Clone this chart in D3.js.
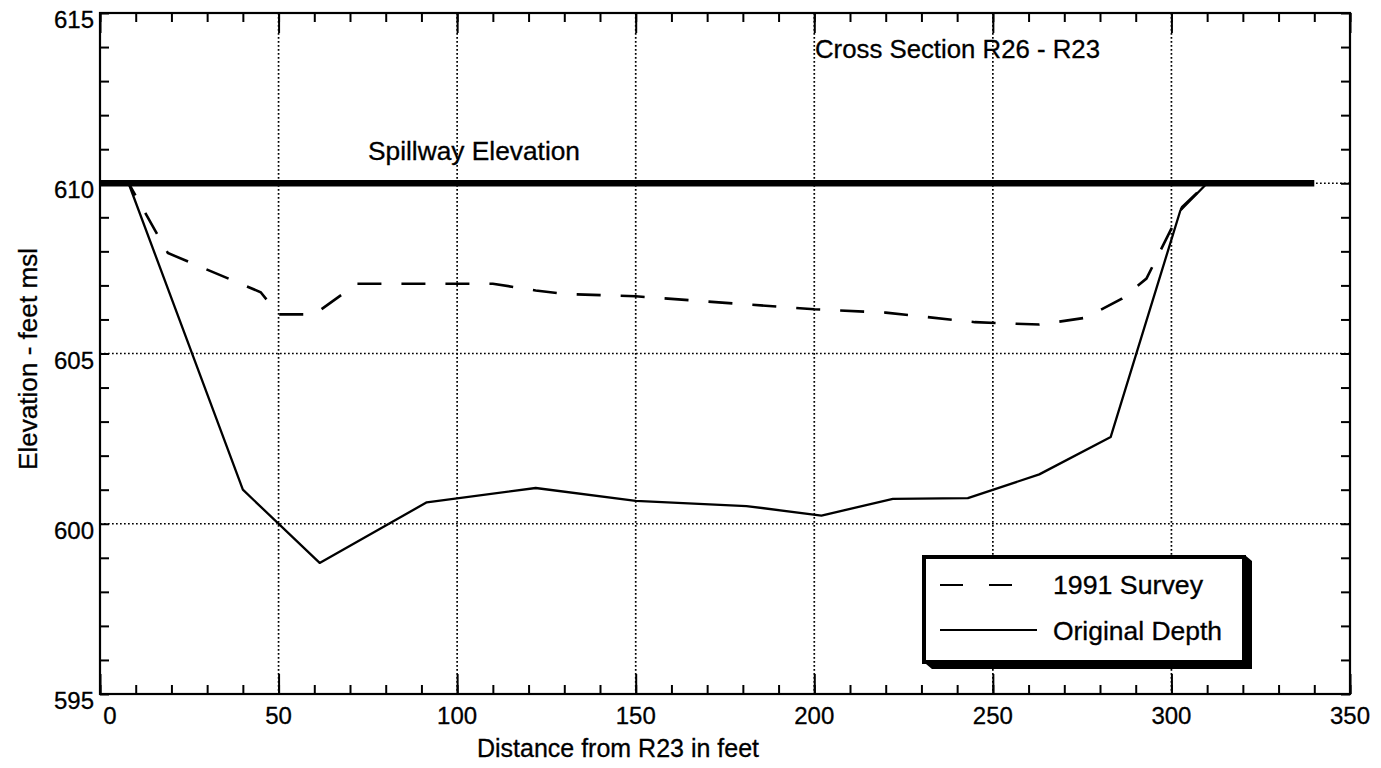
<!DOCTYPE html>
<html>
<head>
<meta charset="utf-8">
<script src="https://cdn.jsdelivr.net/npm/d3@7"></script>
<style>
  html, body { margin: 0; padding: 0; background: #fff; }
  svg { display: block; }
  text { font-family: "Liberation Sans", Arial, Helvetica, sans-serif; fill: #000; stroke: #000; stroke-width: 0.3px; }
</style>
</head>
<body>
<svg id="chart" width="1381" height="768"></svg>
<script>
// ---- Data ----
const survey1991X = [8, 19, 45, 50, 60, 72, 110, 122, 130, 150, 180, 200, 220, 245, 263, 276, 286, 293, 303, 310];
const survey1991Y = [610, 607.95, 606.8, 606.15, 606.15, 607.05, 607.05, 606.85, 606.75, 606.68, 606.45, 606.3, 606.2, 605.92, 605.85, 606.05, 606.6, 607.2, 609.3, 610];
const originalX = [8, 40, 61.5, 91.5, 122, 150, 181, 202, 222, 243, 263, 283, 302.5, 310];
const originalY = [610, 601, 598.85, 600.63, 601.05, 600.67, 600.52, 600.24, 600.73, 600.75, 601.45, 602.55, 609.2, 610];
const spillwayX = [0, 340];
const spillwayY = [610, 610];
const xTickValues = [0, 50, 100, 150, 200, 250, 300, 350];
const yTickValues = [595, 600, 605, 610, 615];
const xGridValues = [50, 100, 150, 200, 250, 300];
const yGridValues = [600, 605, 610];
const seriesNames = ["1991 Survey", "Original Depth"];

// ---- Layout ----
const svg = d3.select("#chart");
const pLeft = 100, pRight = 1350, pTop = 13, pBottom = 694;
const x = d3.scaleLinear().domain([0, 350]).range([pLeft, pRight]);
const y = d3.scaleLinear().domain([595, 615]).range([pBottom, pTop]);

// gridlines
const grid = svg.append("g").attr("stroke", "#000").attr("stroke-width", 1.7).attr("stroke-dasharray", "1.7,2.3");
grid.selectAll("line.vx").data(xGridValues).join("line")
  .attr("x1", d => x(d)).attr("x2", d => x(d)).attr("y1", pTop).attr("y2", pBottom);
grid.selectAll("line.hy").data(yGridValues).join("line")
  .attr("x1", pLeft).attr("x2", pRight).attr("y1", d => y(d)).attr("y2", d => y(d));

// axes with inward ticks
function styleAxis(g) {
  g.select(".domain").remove();
  g.selectAll(".tick line").attr("stroke", "#000").attr("stroke-width", 2);
}
const minorX = d3.range(0, 351, 10);
const minorY = d3.range(595, 615.01, 1);
svg.append("g").attr("transform", `translate(0,${pBottom})`)
  .call(d3.axisBottom(x).tickValues(minorX).tickSize(-9).tickFormat(""))
  .call(styleAxis);
svg.append("g").attr("transform", `translate(0,${pBottom})`)
  .call(d3.axisBottom(x).tickValues(xTickValues).tickSize(-20).tickFormat(""))
  .call(styleAxis);
svg.append("g").attr("transform", `translate(0,${pTop})`)
  .call(d3.axisTop(x).tickValues(minorX).tickSize(-9).tickFormat(""))
  .call(styleAxis);
svg.append("g").attr("transform", `translate(0,${pTop})`)
  .call(d3.axisTop(x).tickValues(xTickValues).tickSize(-20).tickFormat(""))
  .call(styleAxis);
svg.append("g").attr("transform", `translate(${pLeft},0)`)
  .call(d3.axisLeft(y).tickValues(minorY).tickSize(-9).tickFormat(""))
  .call(styleAxis);
svg.append("g").attr("transform", `translate(${pRight},0)`)
  .call(d3.axisRight(y).tickValues(minorY).tickSize(-9).tickFormat(""))
  .call(styleAxis);

// tick labels
svg.append("g").selectAll("text").data(xTickValues).join("text")
  .attr("x", d => x(d) + (d === 0 ? 10 : 0))
  .attr("y", pBottom + 30)
  .attr("text-anchor", "middle")
  .attr("font-size", 24)
  .text(d => d);
svg.append("g").selectAll("text").data(yTickValues).join("text")
  .attr("x", pLeft - 6)
  .attr("y", d => y(d) + 15)
  .attr("text-anchor", "end")
  .attr("font-size", 24)
  .text(d => d);

// frame
svg.append("rect").attr("x", pLeft).attr("y", pTop).attr("width", pRight - pLeft).attr("height", pBottom - pTop)
  .attr("fill", "none").attr("stroke", "#000").attr("stroke-width", 2.2);

// lines
const line = d3.line().x(d => x(d[0])).y(d => y(d[1]));
const spill = spillwayX.map((v, i) => [v, spillwayY[i]]);
const orig = originalX.map((v, i) => [v, originalY[i]]);
const surv = survey1991X.map((v, i) => [v, survey1991Y[i]]);

svg.append("path").attr("d", line(spill)).attr("fill", "none").attr("stroke", "#000").attr("stroke-width", 6.5);
svg.append("path").attr("d", line(orig)).attr("fill", "none").attr("stroke", "#000").attr("stroke-width", 2.3)
  .attr("stroke-linejoin", "round");
svg.append("path").attr("d", line(surv)).attr("fill", "none").attr("stroke", "#000").attr("stroke-width", 2.6)
  .attr("stroke-dasharray", "24,20").attr("stroke-dashoffset", 10);

// annotations
svg.append("text").attr("x", 815).attr("y", 58).attr("font-size", 25)
  .attr("textLength", 285).attr("lengthAdjust", "spacingAndGlyphs").text("Cross Section R26 - R23");
svg.append("text").attr("x", 368).attr("y", 160).attr("font-size", 25)
  .attr("textLength", 212).attr("lengthAdjust", "spacingAndGlyphs").text("Spillway Elevation");

// axis titles
svg.append("text").attr("x", 618).attr("y", 757).attr("text-anchor", "middle").attr("font-size", 25)
  .text("Distance from R23 in feet");
svg.append("text").attr("transform", "translate(37,470) rotate(-90)").attr("font-size", 25)
  .attr("textLength", 222).attr("lengthAdjust", "spacingAndGlyphs")
  .text("Elevation - feet msl");

// legend
const lg = svg.append("g");
lg.append("polygon")
  .attr("points", "926,664 932,669 1252,669 1252,561 1246,556 1246,664")
  .attr("fill", "#000");
lg.append("rect").attr("x", 924).attr("y", 557).attr("width", 320).attr("height", 105)
  .attr("fill", "#fff").attr("stroke", "#000").attr("stroke-width", 4);
const legendRows = [
  { name: seriesNames[0], dash: "23,26", y: 585, ty: 594, w: 150 },
  { name: seriesNames[1], dash: null, y: 630, ty: 640, w: 169 }
];
legendRows.forEach(r => {
  lg.append("line").attr("x1", 940).attr("x2", 1037).attr("y1", r.y).attr("y2", r.y)
    .attr("stroke", "#000").attr("stroke-width", 2)
    .attr("stroke-dasharray", r.dash);
  lg.append("text").attr("x", 1053).attr("y", r.ty).attr("font-size", 25)
    .attr("textLength", r.w).attr("lengthAdjust", "spacingAndGlyphs").text(r.name);
});
</script>
</body>
</html>
